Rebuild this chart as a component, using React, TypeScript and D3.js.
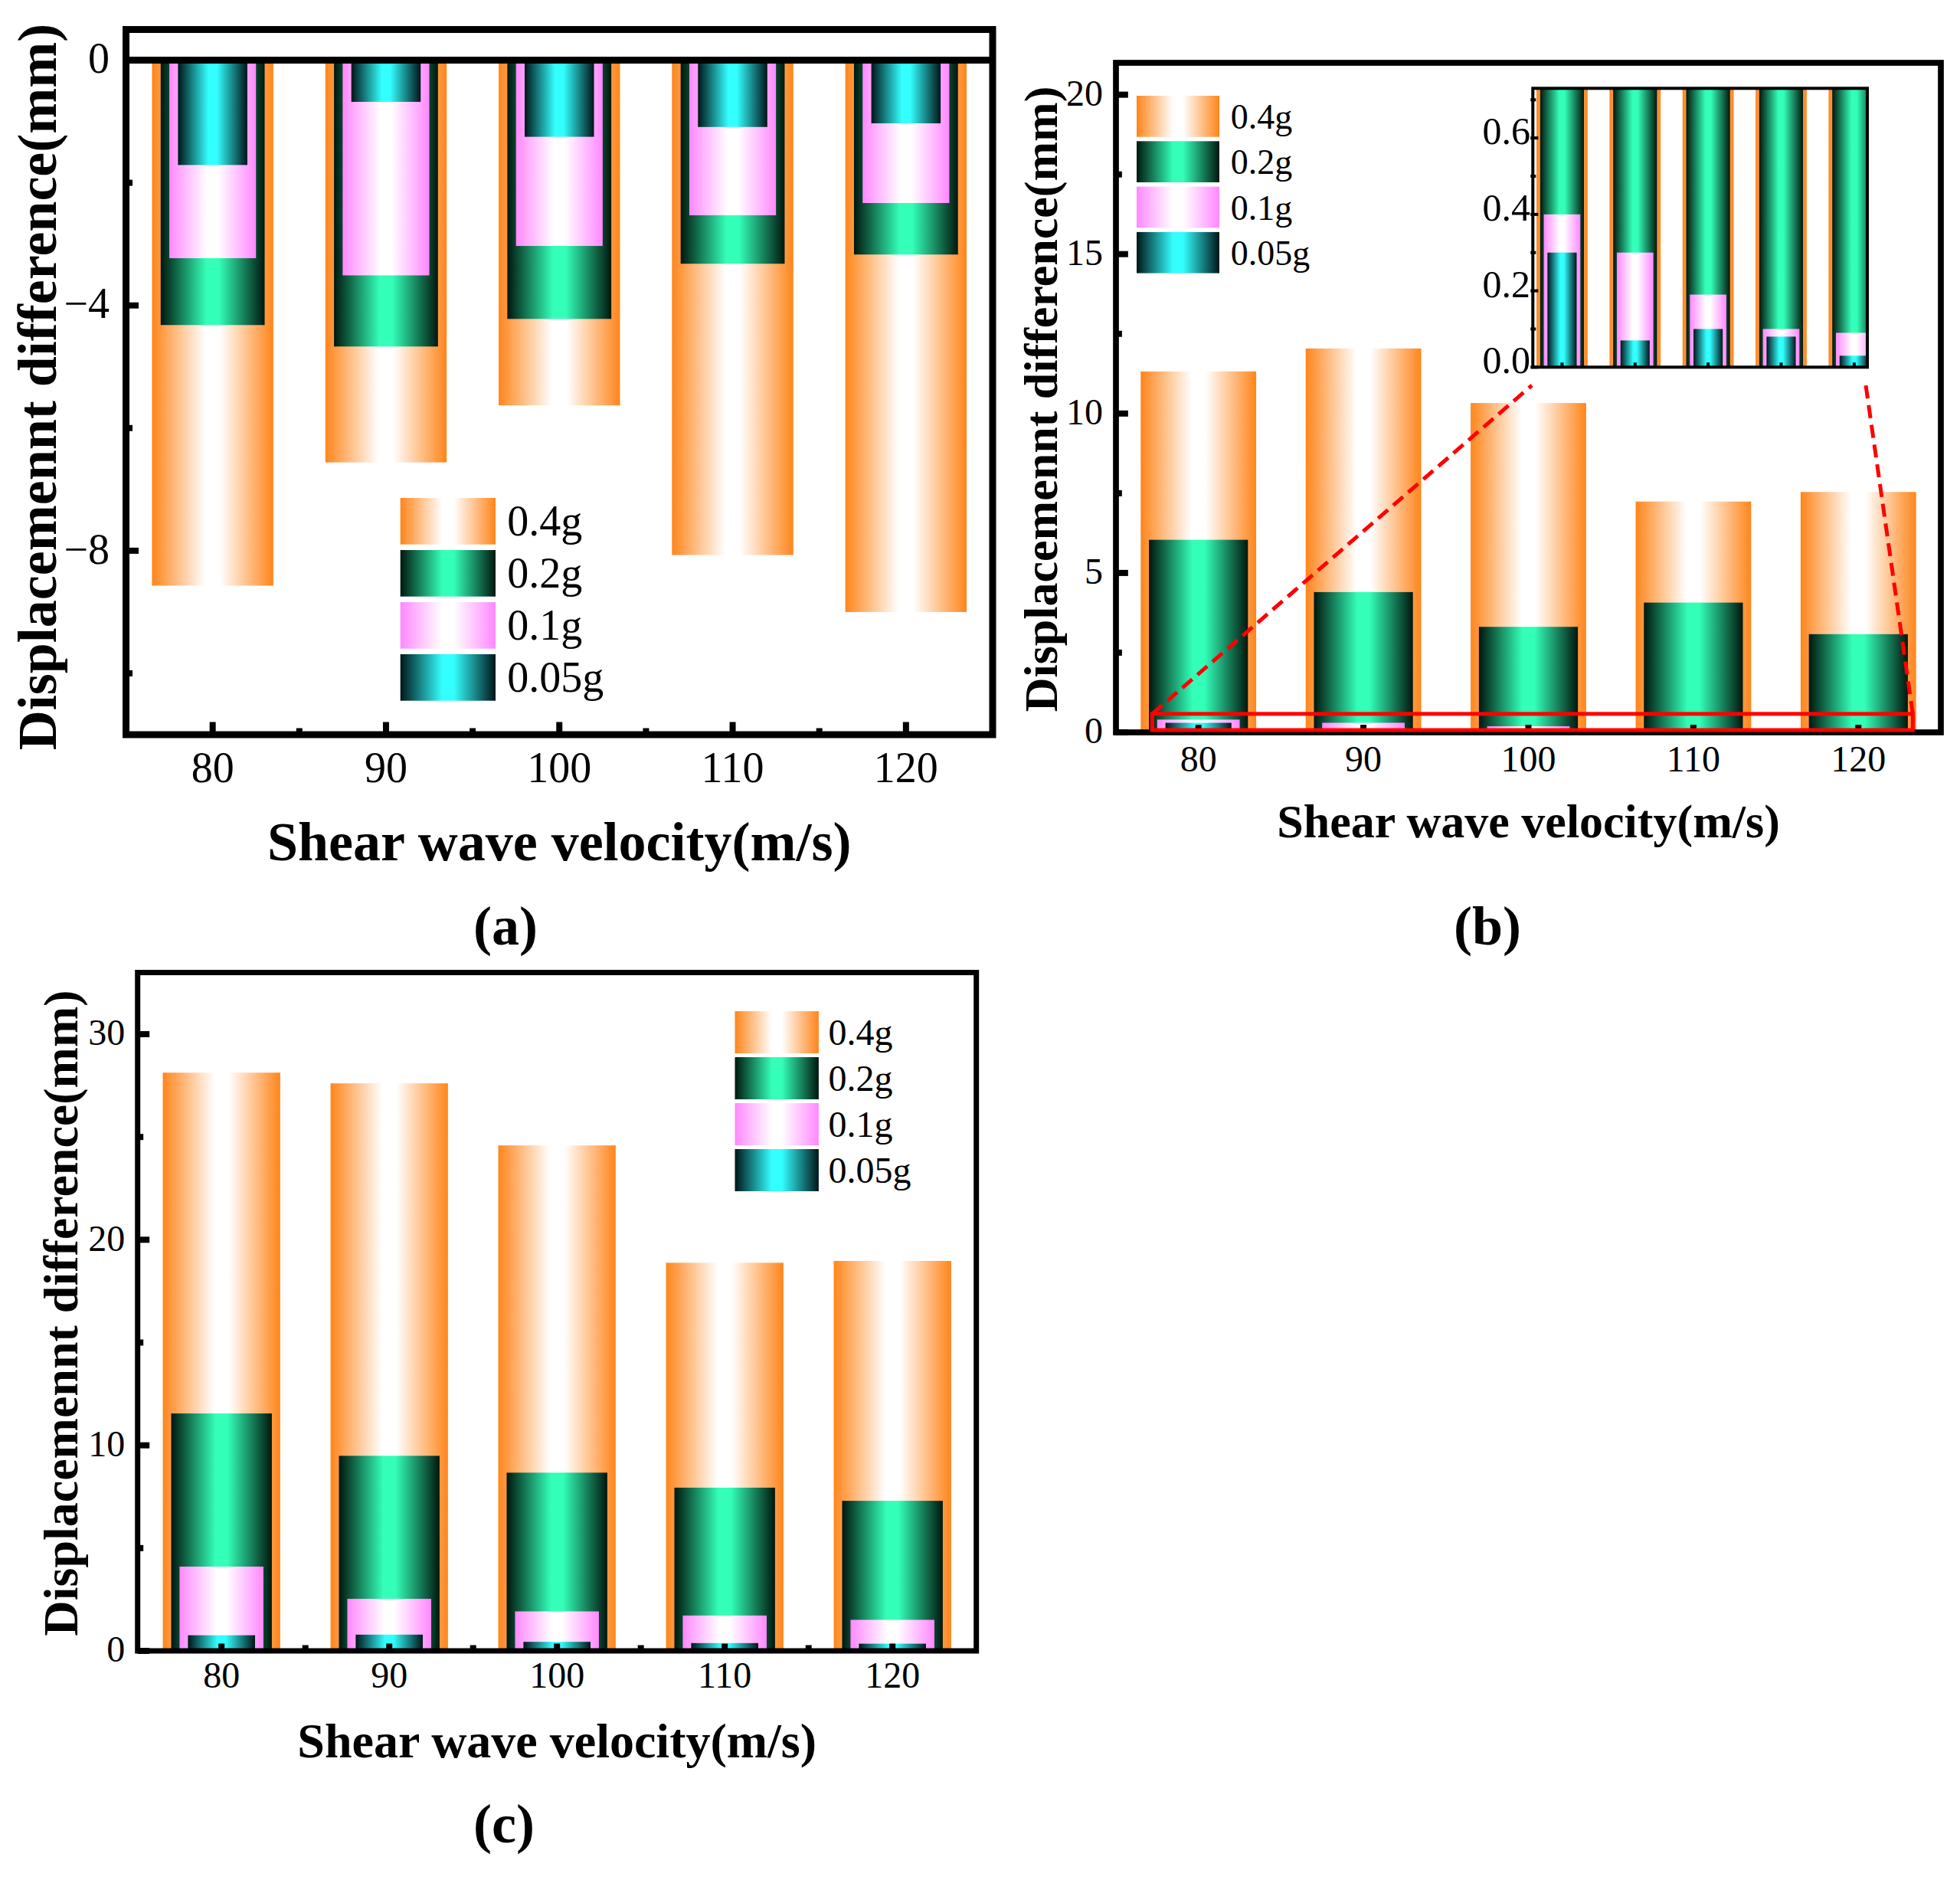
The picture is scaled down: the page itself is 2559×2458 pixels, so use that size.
import React, { useEffect } from 'react';
import * as d3 from 'd3';

// ---------- data ----------
const categories = ['80', '90', '100', '110', '120'];
const seriesLabels = ['0.4g', '0.2g', '0.1g', '0.05g'];

// panel (a)
const panelA_04g = [-8.57, -6.56, -5.63, -8.07, -9.0];
const panelA_02g = [-4.32, -4.67, -4.22, -3.32, -3.17];
const panelA_01g = [-3.23, -3.51, -3.03, -2.53, -2.33];
const panelA_005g = [-1.71, -0.68, -1.25, -1.09, -1.03];
const panelATicks = [0, -4, -8];
const panelAMinorTicks = [-2, -6, -10];

// panel (b)
const panelB_04g = [11.32, 12.04, 10.33, 7.24, 7.54];
const panelB_02g = [6.04, 4.4, 3.31, 4.07, 3.08];
const panelB_01g = [0.4, 0.3, 0.19, 0.1, 0.09];
const panelB_005g = [0.3, 0.07, 0.1, 0.08, 0.03];
const panelBTicks = [0, 5, 10, 15, 20];
const panelBMinorTicks = [2.5, 7.5, 12.5, 17.5];
const insetTicks = [0, 0.2, 0.4, 0.6];
const insetMinorTicks = [0.1, 0.3, 0.5, 0.7];

// panel (c)
const panelC_04g = [28.13, 27.61, 24.59, 18.88, 18.97];
const panelC_02g = [11.55, 9.49, 8.67, 7.94, 7.3];
const panelC_01g = [4.1, 2.53, 1.92, 1.72, 1.51];
const panelC_005g = [0.76, 0.79, 0.44, 0.38, 0.35];
const panelCTicks = [0, 10, 20, 30];
const panelCMinorTicks = [5, 15, 25];

// ---------- styles ----------
const FONT = '"Liberation Serif","Times New Roman",serif';
const barWidthFractions = [0.7, 0.6, 0.5, 0.4];
const gradients = [
  { id: 'g04', edge: '#FF851B', mid: '#FFFFFF' },
  { id: 'g02', edge: '#00170E', mid: '#33FFB8' },
  { id: 'g01', edge: '#FF88FF', mid: '#FFFFFF' },
  { id: 'g005', edge: '#001518', mid: '#33FFFF' },
];
const xTitle = 'Shear wave velocity(m/s)';
const yTitle = 'Displacemennt difference(mm)';

type Frame = { l: number; r: number; t: number; b: number; sw: number };

function Bars({ xs, ys, series, clip }: any) {
  const step = xs(2) - xs(1);
  return (
    <g clipPath={clip ? `url(#${clip})` : undefined}>
      {series.map((vals: number[], s: number) =>
        vals.map((v, i) => {
          const w = barWidthFractions[s] * step;
          const y0 = ys(0);
          const y1 = ys(v);
          return (
            <rect
              key={`${s}-${i}`}
              x={xs(i + 1) - w / 2}
              y={Math.min(y0, y1)}
              width={w}
              height={Math.abs(y1 - y0)}
              fill={`url(#${gradients[s].id})`}
            />
          );
        })
      )}
    </g>
  );
}

function Panel(props: any) {
  const {
    frame, yDomain, series, ticks, minorTicks, tickFs, tickRight, xLabelBase,
    xMinor, zeroLine, titleFs, xTitleBase, yTitleX, yTitleCY, legend, xTickLen,
  } = props;
  const f: Frame = frame;
  const xs = d3.scaleLinear().domain([0.5, 5.5]).range([f.l, f.r]);
  const ys = d3.scaleLinear().domain(yDomain).range([f.b, f.t]);
  const fmt = d3.format('');
  const inL = f.l + f.sw / 2;
  const inB = f.b - f.sw / 2;
  const tw = 8;
  return (
    <g>
      <Bars xs={xs} ys={ys} series={series} />
      {zeroLine && (
        <line x1={f.l} x2={f.r} y1={ys(0)} y2={ys(0)} stroke="#000" strokeWidth={f.sw} />
      )}
      <rect x={f.l} y={f.t} width={f.r - f.l} height={f.b - f.t} fill="none" stroke="#000" strokeWidth={f.sw} />
      {/* y ticks */}
      {ticks.map((t: number) => (
        <g key={`yt${t}`}>
          <line x1={f.l} x2={inL + 12} y1={ys(t)} y2={ys(t)} stroke="#000" strokeWidth={tw} />
          <text x={tickRight} y={ys(t) + 0.3 * tickFs} textAnchor="end" fontFamily={FONT} fontSize={tickFs}>
            {fmt(t)}
          </text>
        </g>
      ))}
      {minorTicks.map((t: number) => (
        <line key={`ym${t}`} x1={f.l} x2={inL + 4} y1={ys(t)} y2={ys(t)} stroke="#000" strokeWidth={tw} />
      ))}
      {/* x ticks */}
      {categories.map((c, i) => (
        <g key={`xt${c}`}>
          <line x1={xs(i + 1)} x2={xs(i + 1)} y1={f.b} y2={inB - xTickLen} stroke="#000" strokeWidth={tw} />
          <text x={xs(i + 1)} y={xLabelBase} textAnchor="middle" fontFamily={FONT} fontSize={tickFs}>
            {c}
          </text>
        </g>
      ))}
      {xMinor &&
        [1.5, 2.5, 3.5, 4.5].map((m) => (
          <line key={`xm${m}`} x1={xs(m)} x2={xs(m)} y1={f.b} y2={inB - 4} stroke="#000" strokeWidth={tw} />
        ))}
      {/* titles */}
      <text x={(f.l + f.r) / 2} y={xTitleBase} textAnchor="middle" fontFamily={FONT} fontWeight="bold" fontSize={titleFs}>
        {xTitle}
      </text>
      <text
        transform={`translate(${yTitleX},${yTitleCY}) rotate(-90)`}
        textAnchor="middle"
        fontFamily={FONT}
        fontWeight="bold"
        fontSize={titleFs}
      >
        {yTitle}
      </text>
      {/* legend */}
      {seriesLabels.map((lab, s) => (
        <g key={lab}>
          <rect
            x={legend.x}
            y={legend.y + s * legend.pitch}
            width={legend.w}
            height={legend.h}
            fill={`url(#${gradients[s].id})`}
          />
          <text
            x={legend.textX}
            y={legend.y + s * legend.pitch + 0.8 * legend.h}
            fontFamily={FONT}
            fontSize={legend.fs}
          >
            {lab}
          </text>
        </g>
      ))}
    </g>
  );
}

function Inset() {
  const f: Frame = { l: 2001.3, r: 2438, t: 115.3, b: 479.3, sw: 4 };
  const xs = d3.scaleLinear().domain([0.6, 5.18]).range([f.l, f.r]);
  const ys = d3.scaleLinear().domain([0, 0.73]).range([f.b, f.t]);
  const fmt = d3.format('.1f');
  const fs = 50;
  return (
    <g>
      <defs>
        <clipPath id="insetClip">
          <rect x={f.l} y={f.t} width={f.r - f.l} height={f.b - f.t} />
        </clipPath>
      </defs>
      <rect x={f.l} y={f.t} width={f.r - f.l} height={f.b - f.t} fill="#fff" />
      <Bars xs={xs} ys={ys} series={[panelB_04g, panelB_02g, panelB_01g, panelB_005g]} clip="insetClip" />
      <rect x={f.l} y={f.t} width={f.r - f.l} height={f.b - f.t} fill="none" stroke="#000" strokeWidth={f.sw} />
      {insetTicks.map((t) => (
        <g key={`it${t}`}>
          <line x1={f.l - 3} x2={f.l + 7} y1={ys(t)} y2={ys(t)} stroke="#000" strokeWidth={4} />
          <text x={1998} y={ys(t) + 8} textAnchor="end" fontFamily={FONT} fontSize={fs}>
            {fmt(t)}
          </text>
        </g>
      ))}
      {insetMinorTicks.map((t) => (
        <line key={`im${t}`} x1={f.l - 3} x2={f.l + 4} y1={ys(t)} y2={ys(t)} stroke="#000" strokeWidth={4} />
      ))}
      {categories.map((c, i) => (
        <line key={`ix${c}`} x1={xs(i + 1)} x2={xs(i + 1)} y1={f.b} y2={f.b - 6} stroke="#000" strokeWidth={4} />
      ))}
    </g>
  );
}

function Zoomer() {
  // red box in panel (b) data coordinates
  const frame: Frame = { l: 1457, r: 2534, t: 82, b: 956, sw: 7.7 };
  const xs = d3.scaleLinear().domain([0.5, 5.5]).range([frame.l, frame.r]);
  const ys = d3.scaleLinear().domain([0, 21]).range([frame.b, frame.t]);
  const bx0 = xs(0.72), bx1 = xs(5.33), by0 = ys(0.58), by1 = ys(0) - 3;
  return (
    <g>
      <rect x={bx0} y={by0} width={bx1 - bx0} height={by1 - by0} fill="none" stroke="#FF0000" strokeWidth={5} />
      <line x1={bx0} y1={by0} x2={2000} y2={503} stroke="#FF0000" strokeWidth={5} strokeDasharray="17 9" />
      <line x1={bx1} y1={by0} x2={2436} y2={503} stroke="#FF0000" strokeWidth={5} strokeDasharray="17 9" />
    </g>
  );
}

export default function App() {
  useEffect(() => {
    document.body.style.margin = '0';
  }, []);
  return (
    <svg width={2559} height={2458} style={{ position: 'absolute', left: 0, top: 0, background: '#fff' }}>
      <defs>
        {gradients.map((g) => (
          <linearGradient key={g.id} id={g.id} x1="0" x2="1" y1="0" y2="0">
            <stop offset="0" stopColor={g.edge} />
            <stop offset="0.44" stopColor={g.mid} />
            <stop offset="0.56" stopColor={g.mid} />
            <stop offset="1" stopColor={g.edge} />
          </linearGradient>
        ))}
      </defs>
      <rect x={0} y={0} width={2559} height={2458} fill="#fff" />
      <Panel
        frame={{ l: 164.5, r: 1296, t: 38.5, b: 959, sw: 9 }}
        yDomain={[-11, 0.5]}
        series={[panelA_04g, panelA_02g, panelA_01g, panelA_005g]}
        ticks={panelATicks}
        minorTicks={panelAMinorTicks}
        tickFs={56}
        tickRight={143}
        xLabelBase={1020.7}
        xMinor={true}
        zeroLine={true}
        titleFs={72}
        xTitleBase={1122.7}
        yTitleX={73.3}
        yTitleCY={505}
        xTickLen={12}
        legend={{ x: 522.7, y: 650, w: 124.3, h: 60.7, pitch: 68, textX: 662.3, fs: 56 }}
      />
      <Panel
        frame={{ l: 1457, r: 2534, t: 82, b: 956, sw: 7.7 }}
        yDomain={[0, 21]}
        series={[panelB_04g, panelB_02g, panelB_01g, panelB_005g]}
        ticks={panelBTicks}
        minorTicks={panelBMinorTicks}
        tickFs={48}
        tickRight={1440}
        xLabelBase={1007}
        xMinor={false}
        zeroLine={false}
        titleFs={62}
        xTitleBase={1093}
        yTitleX={1380}
        yTitleCY={521}
        xTickLen={6}
        legend={{ x: 1484, y: 125, w: 108, h: 53.7, pitch: 59.3, textX: 1606.7, fs: 46 }}
      />
      <Zoomer />
      <Inset />
      <Panel
        frame={{ l: 179.7, r: 1274.7, t: 1269.5, b: 2155, sw: 7 }}
        yDomain={[0, 33]}
        series={[panelC_04g, panelC_02g, panelC_01g, panelC_005g]}
        ticks={panelCTicks}
        minorTicks={panelCMinorTicks}
        tickFs={48}
        tickRight={163.3}
        xLabelBase={2203}
        xMinor={true}
        zeroLine={false}
        titleFs={64}
        xTitleBase={2294}
        yTitleX={101}
        yTitleCY={1714}
        xTickLen={6}
        legend={{ x: 959.5, y: 1320, w: 109.4, h: 55, pitch: 60, textX: 1081.4, fs: 48 }}
      />
      <text x={660} y={1233} textAnchor="middle" fontFamily={FONT} fontWeight="bold" fontSize={72}>(a)</text>
      <text x={1942} y={1233} textAnchor="middle" fontFamily={FONT} fontWeight="bold" fontSize={72}>(b)</text>
      <text x={658} y={2405} textAnchor="middle" fontFamily={FONT} fontWeight="bold" fontSize={72}>(c)</text>
    </svg>
  );
}
